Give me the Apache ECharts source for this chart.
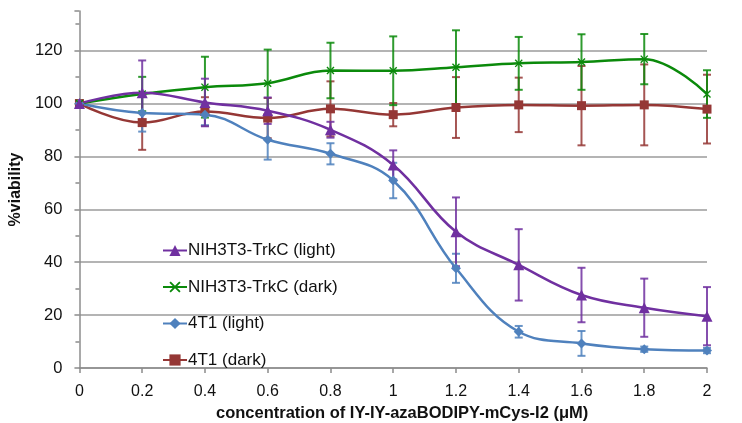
<!DOCTYPE html>
<html>
<head>
<meta charset="utf-8">
<script src="https://cdn.jsdelivr.net/npm/echarts@6/dist/echarts.min.js"></script>
<style>
html,body{margin:0;padding:0;background:#fff;}
#chart{width:742px;height:423px;}
</style>
</head>
<body>
<div id="chart"></div>
<script>
const concentrations = [0, 0.2, 0.4, 0.6, 0.8, 1.0, 1.2, 1.4, 1.6, 1.8, 2.0];
const yTicks = [0, 20, 40, 60, 80, 100, 120];
const seriesNames = ['NIH3T3-TrkC (light)', 'NIH3T3-TrkC (dark)', '4T1 (light)', '4T1 (dark)'];

const nihLight    = [100, 104.1, 100.4, 97.3, 90.1, 76.8, 51.5, 39.0, 27.6, 22.8, 19.6];
const nihLightErr = [0, 12.2, 9.0, 5.0, 3.0, 5.5, 13.0, 13.5, 10.3, 11.0, 11.0];

const nihDark     = [100, 103.6, 106.2, 107.7, 112.5, 112.4, 113.7, 115.2, 115.7, 116.8, 103.6];
const nihDarkErr  = [0, 6.5, 11.5, 12.7, 10.5, 13.0, 14.0, 10.0, 10.5, 9.5, 9.0];

const t1Light     = [100, 96.4, 95.8, 86.3, 81.0, 70.9, 37.7, 13.7, 9.3, 7.1, 6.6];
const t1LightErr  = [0, 7.0, 4.0, 7.5, 4.0, 6.7, 5.5, 2.2, 4.7, 1.0, 1.0];

const t1Dark      = [100, 92.8, 97.0, 94.5, 98.0, 95.8, 98.5, 99.5, 99.2, 99.5, 97.9];
const t1DarkErr   = [0, 10.3, 5.4, 7.6, 10.4, 4.4, 11.5, 10.3, 15.0, 15.3, 13.0];

const colors = ['#7030A0', '#0B8A0B', '#4F81BD', '#953735'];
const FONT = 'Liberation Sans, Arial, sans-serif';
const xMark = 'path://M0,1.2L1.2,0L5,3.8L8.8,0L10,1.2L6.2,5L10,8.8L8.8,10L5,6.2L1.2,10L0,8.8L3.8,5Z';

function pairs(vals) { return concentrations.map((c, i) => [c, vals[i]]); }
function errData(vals, errs) { return concentrations.map((c, i) => [c, vals[i], errs[i]]); }

function lineSeries(name, vals, color, symbol, size) {
  return {
    name: name, type: 'line', data: pairs(vals), smooth: 0.4,
    symbol: symbol, symbolSize: size, showSymbol: true,
    lineStyle: { color: color, width: 2.5 },
    itemStyle: { color: color },
    emphasis: { disabled: true }, z: 3
  };
}
function errSeries(id, vals, errs, color) {
  return {
    name: id, type: 'custom', data: errData(vals, errs), z: 2,
    renderItem: function (params, api) {
      const x = api.value(0), y = api.value(1), e = api.value(2);
      if (!e) return null;
      const top = api.coord([x, y + e]);
      const bot = api.coord([x, y - e]);
      const hw = 4;
      const st = { stroke: color, lineWidth: 2, opacity: 0.85 };
      return { type: 'group', children: [
        { type: 'line', shape: { x1: top[0], y1: top[1], x2: bot[0], y2: bot[1] }, style: st },
        { type: 'line', shape: { x1: top[0] - hw, y1: top[1], x2: top[0] + hw, y2: top[1] }, style: st },
        { type: 'line', shape: { x1: bot[0] - hw, y1: bot[1], x2: bot[0] + hw, y2: bot[1] }, style: st }
      ]};
    },
    silent: true
  };
}

const chart = echarts.init(document.getElementById('chart'));
chart.setOption({
  animation: false,
  backgroundColor: '#fff',
  grid: { left: 74, right: 35, top: 11, bottom: 55, containLabel: false },
  legend: {
    data: seriesNames, orient: 'vertical', left: 157, top: 237,
    itemWidth: 24, itemHeight: 14, itemGap: 19.5,
    textStyle: { fontFamily: FONT, fontSize: 17, color: '#111', padding: [0, 0, 0, -4] },
    selectedMode: false
  },
  xAxis: {
    type: 'value', min: 0, max: 2, interval: 0.2,
    axisLine: { show: true, onZero: false, lineStyle: { color: '#8c8c8c', width: 1.5 } },
    axisTick: { show: true, length: 5, lineStyle: { color: '#8c8c8c', width: 1.5 } },
    splitLine: { show: false },
    axisLabel: { margin: 16, fontFamily: FONT, fontSize: 16, color: '#111',
      formatter: function (v) { return String(+v.toFixed(1)); } }
  },
  yAxis: {
    type: 'value', min: 0, max: 135, interval: 20,
    name: '%viability', nameLocation: 'middle', nameGap: 51, nameRotate: 90,
    nameTextStyle: { fontFamily: FONT, fontSize: 16, fontWeight: 'bold', color: '#111' },
    axisLine: { show: true, lineStyle: { color: '#8c8c8c', width: 1.5 } },
    axisTick: { show: true, length: 5, lineStyle: { color: '#8c8c8c', width: 1.5 } },
    minorTick: { show: true, splitNumber: 2, length: 4, lineStyle: { color: '#8c8c8c', width: 1.5 } },
    splitLine: { show: true, lineStyle: { color: ['#b4b4b4','#b4b4b4','#b4b4b4','#b4b4b4','#b4b4b4','#b4b4b4','#b4b4b4','rgba(0,0,0,0)'], width: 2 } },
    axisLabel: { margin: 17, fontFamily: FONT, fontSize: 16.5, color: '#111', showMaxLabel: false,
      formatter: function (v) { return yTicks.indexOf(v) >= 0 ? String(v) : ''; } }
  },
  graphic: [{
    type: 'text', left: 216, top: 405,
    style: { text: 'concentration of IY-IY-azaBODIPY-mCys-I2 (\u03bcM)', fontFamily: FONT, fontSize: 16.5, fontWeight: 'bold', fill: '#111' }
  }],
  series: [
    errSeries('e3', t1Dark, t1DarkErr, colors[3]),
    errSeries('e2', t1Light, t1LightErr, colors[2]),
    errSeries('e1', nihDark, nihDarkErr, colors[1]),
    errSeries('e0', nihLight, nihLightErr, colors[0]),
    lineSeries(seriesNames[3], t1Dark, colors[3], 'rect', 9),
    lineSeries(seriesNames[2], t1Light, colors[2], 'diamond', 10),
    lineSeries(seriesNames[1], nihDark, colors[1], xMark, 8),
    lineSeries(seriesNames[0], nihLight, colors[0], 'triangle', 11)
  ]
});
</script>
</body>
</html>
